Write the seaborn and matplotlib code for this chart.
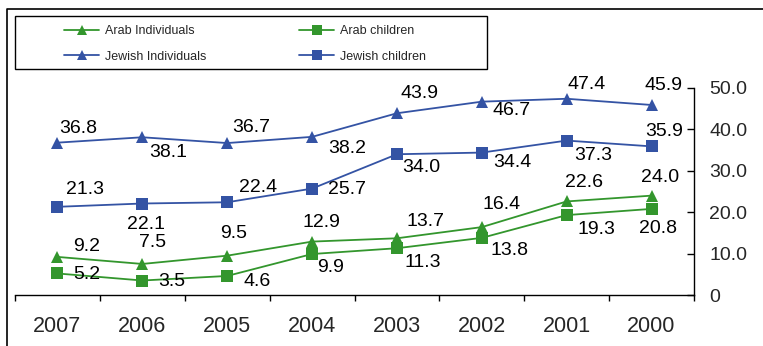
import numpy as np
import pandas as pd
import matplotlib
matplotlib.use("Agg")
import matplotlib.pyplot as plt
import seaborn as sns
from matplotlib.lines import Line2D
from matplotlib.patches import Rectangle
from matplotlib import font_manager

# ---- data -------------------------------------------------------------
years = ["2007", "2006", "2005", "2004", "2003", "2002", "2001", "2000"]
arab_individuals = [9.2, 7.5, 9.5, 12.9, 13.7, 16.4, 22.6, 24.0]
arab_children = [5.2, 3.5, 4.6, 9.9, 11.3, 13.8, 19.3, 20.8]
jewish_individuals = [36.8, 38.1, 36.7, 38.2, 43.9, 46.7, 47.4, 45.9]
jewish_children = [21.3, 22.1, 22.4, 25.7, 34.0, 34.4, 37.3, 35.9]
series_names = ["Arab Individuals", "Arab children",
                "Jewish Individuals", "Jewish children"]
y_ticks = [0, 10, 20, 30, 40, 50]
y_tick_labels = ["0", "10.0", "20.0", "30.0", "40.0", "50.0"]

# ---- styling ----------------------------------------------------------
GREEN = "#33962D"
BLUE = "#3453A4"
colors = {"Arab Individuals": GREEN, "Arab children": GREEN,
          "Jewish Individuals": BLUE, "Jewish children": BLUE}
markers = {"Arab Individuals": "^", "Arab children": "s",
           "Jewish Individuals": "^", "Jewish children": "s"}

# value-label nudges in pixels (right, down) per point
label_nudges = {
    "Arab Individuals": [(29, -10), (10, -21), (6, -22), (9, -19),
                         (29, -17), (20, -23), (17, -19), (8, -18)],
    "Arab children": [(29, 1), (29, 1), (30, 6), (19, 13),
                      (26, 14), (28, 13), (30, 14), (6, 20)],
    "Jewish Individuals": [(21, -14), (26, 15), (24, -16), (35, 12),
                           (23, -20), (30, 9), (20, -14), (12, -19)],
    "Jewish children": [(28, -17), (4, 21), (31, -15), (35, 1),
                        (24, 13), (31, 10), (27, 15), (13, -15)],
}

sns.set_style("white")
installed = {f.name for f in font_manager.fontManager.ttflist}
base_font = "Liberation Sans" if "Liberation Sans" in installed else "DejaVu Sans"
narrow_font = "Liberation Sans Narrow" if "Liberation Sans Narrow" in installed else None
plt.rcParams["font.family"] = [base_font, "DejaVu Sans"]

values = {"Arab Individuals": arab_individuals, "Arab children": arab_children,
          "Jewish Individuals": jewish_individuals, "Jewish children": jewish_children}
df = pd.DataFrame([
    {"Year": y, "Value": v, "Series": name}
    for name in series_names for y, v in zip(years, values[name])
])

W, H = 763, 346
fig = plt.figure(figsize=(W / 100, H / 100), dpi=100)
ax = fig.add_axes([15 / W, 1 - 295 / H, (694 - 15) / W, (295 - 88) / H])

sns.lineplot(data=df, x="Year", y="Value", hue="Series", style="Series",
             hue_order=series_names, style_order=series_names,
             palette=colors, markers=markers, dashes=False, sort=False,
             markersize=8, linewidth=1.3, markeredgewidth=0,
             legend=False, ax=ax)

# value labels
for name in series_names:
    for i, v in enumerate(values[name]):
        dx, dy = label_nudges[name][i]
        ax.annotate(f"{v:.1f}", xy=(i, v), xytext=(dx, -dy),
                    textcoords="offset pixels", ha="center", va="center",
                    fontsize=14, color="black")

# axes
ax.set_xlim(-0.5, len(years) - 0.5)
ax.set_ylim(0, 50)
ax.set_xlabel("")
ax.set_ylabel("")
for s in ("top", "left"):
    ax.spines[s].set_visible(False)
for s in ("bottom", "right"):
    ax.spines[s].set_visible(True)
    ax.spines[s].set_color("black")
    ax.spines[s].set_linewidth(1.0)

ax.set_xticks(np.arange(-0.5, len(years), 1.0))
ax.set_xticklabels([])
ax.set_xticks(np.arange(len(years)), minor=True)
if narrow_font:
    ax.set_xticklabels(years, minor=True, fontsize=17, family=[narrow_font, base_font])
else:
    ax.set_xticklabels(years, minor=True, fontsize=15.5)
ax.tick_params(axis="x", which="major", direction="out", length=4, width=1, color="black", bottom=True)
ax.tick_params(axis="x", which="minor", length=0, pad=15)

ax.yaxis.tick_right()
ax.set_yticks(y_ticks)
ax.set_yticklabels(y_tick_labels, fontsize=14)
ax.tick_params(axis="y", which="major", direction="in", length=5, width=1,
               color="black", right=True, left=False, pad=11)
ax.grid(False)

# outer frame (left and top edges)
fig.add_artist(Line2D([7 / W, 7 / W, 1.0], [0.0, 1 - 9 / H, 1 - 9 / H],
                      transform=fig.transFigure, color="black", lw=1.2))

# legend box and entries
fig.add_artist(Rectangle((15 / W, 1 - 69 / H), 472 / W, 53 / H,
                         transform=fig.transFigure, fill=False,
                         edgecolor="black", lw=1.0))
handles = [Line2D([], [], color=colors[n], marker=markers[n], markersize=6.5,
                  markeredgewidth=0, lw=1.3) for n in series_names]
order = [0, 2, 1, 3]
fig.legend([handles[k] for k in order], [series_names[k] for k in order],
           ncol=2, loc="upper left", bbox_to_anchor=(64 / W, 1 - 25 / H),
           frameon=False, fontsize=9, handlelength=2.8, handletextpad=0.5,
           columnspacing=7.4, labelspacing=1.1, borderpad=0, borderaxespad=0)

fig.savefig("out.png", dpi=100, facecolor="white")
